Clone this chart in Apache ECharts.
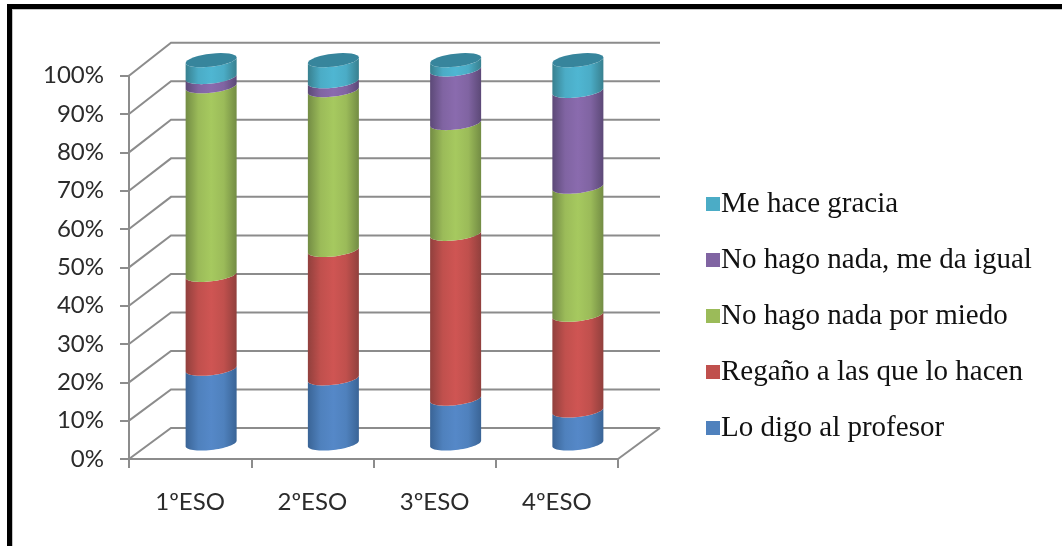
<!DOCTYPE html>
<html><head><meta charset="utf-8">
<style>html,body{margin:0;padding:0;background:#fff}#c{width:1062px;height:546px}</style>
<script src="https://cdn.jsdelivr.net/npm/echarts@6/dist/echarts.min.js"></script>
</head><body><div id="c"></div>
<script>
const categories = ['1ºESO','2ºESO','3ºESO','4ºESO'];
const yTicks = [0,10,20,30,40,50,60,70,80,90,100];
const loDigo   = [19.5,17,11.7,8.6];
const regano   = [24.5,33.5,43,25];
const miedo    = [49.2,41.7,28.9,33.4];
const igual    = [2.4,2.3,14,25];
const gracia   = [4.4,5.5,2.4,8];
const seriesNames = ['Lo digo al profesor','Regaño a las que lo hacen','No hago nada por miedo','No hago nada, me da igual','Me hace gracia'];
const seriesValues = [loDigo,regano,miedo,igual,gracia];
const flat = ['#4f81bd','#c0504d','#9bbb59','#8064a2','#4bacc6'];
const mid  = ['#5588c8','#cf5553','#a6c95f','#8a6bae','#4fb6d2'];
const dark = ['#3a6496','#91403d','#738c44','#5c4977','#38808f'];
const topColor = '#37859c';
const gridColor = '#8c8c8c';

const DX=42, DY=-31, R=25.5, RY=6.5, TILT=2.8, PERSP=1.005;

function wallItem(params, api){
  const v = api.value(0);
  const a = api.coord([0,v]);
  const base = api.coord([0,0]);
  const left = a[0]-api.size([1,0])[0]/2;
  const right = left+api.size([1,0])[0]*categories.length;
  const y = a[1];
  const yBack = base[1]+DY+(y-base[1])*PERSP;
  const pts = [[left,y],[left+DX,yBack],[right+DX,yBack]];
  const children = [{type:'polyline',shape:{points:pts},style:{stroke:gridColor,lineWidth:2,fill:null}}];
  if(v===0) children.push({type:'line',shape:{x1:right,y1:y,x2:right+DX,y2:yBack},style:{stroke:gridColor,lineWidth:2}});
  return {type:'group',children};
}
function arc(cx,cy,from,to){
  const p=[];const n=32;
  for(let i=0;i<=n;i++){const t=from+(to-from)*i/n;
    p.push([cx+R*Math.cos(t),cy+RY*Math.sin(t)-TILT*Math.cos(t)]);}
  return p;
}
function seriesRender(si){
  return function(params,api){
    const cat=api.value(0), lo=api.value(1), hi=api.value(2);
    const b=api.coord([cat,lo]), t=api.coord([cat,hi]);
    const cx=b[0]+DX/2, yb=b[1]+DY/2, yt=t[1]+DY/2;
    const pts=arc(cx,yt,Math.PI,0).concat(arc(cx,yb,0,Math.PI));
    const grad={type:'linear',x:0,y:0,x2:1,y2:0,colorStops:[
      {offset:0,color:dark[si]},{offset:.25,color:flat[si]},{offset:.5,color:mid[si]},{offset:.75,color:flat[si]},{offset:1,color:dark[si]}]};
    const children=[{type:'polygon',shape:{points:pts},style:{fill:grad}}];
    if(si===seriesNames.length-1){
      children.push({type:'polygon',shape:{points:arc(cx,yt,0,Math.PI*2)},style:{fill:topColor}});
    }
    return {type:'group',children};
  };
}
const stacks=seriesValues.map((vals,si)=>vals.map((v,c)=>{
  let lo=0;for(let k=0;k<si;k++)lo+=seriesValues[k][c];
  return [c,lo,lo+v];
}));
const chart=echarts.init(document.getElementById('c'),null,{renderer:'canvas'});
const axisFont={fontFamily:'Lato',fontSize:24,color:'#2b2b2b'};
chart.setOption({
  animation:false,
  backgroundColor:'#ffffff',
  graphic:[
    {type:'rect',shape:{x:12,y:9,width:1,height:537},style:{fill:'#c4c4c4'},silent:true},
    {type:'rect',shape:{x:12,y:9,width:1050,height:1},style:{fill:'#c4c4c4'},silent:true},
    {type:'rect',shape:{x:7,y:4,width:5,height:542},style:{fill:'#000'},silent:true},
    {type:'rect',shape:{x:7,y:4,width:1055,height:5},style:{fill:'#000'},silent:true}
  ],
  grid:{left:129,top:75.7,width:489,height:383.3,containLabel:false},
  xAxis:{type:'category',data:categories,
    axisLine:{lineStyle:{color:gridColor,width:2}},
    axisTick:{show:true,alignWithLabel:false,length:9,lineStyle:{color:gridColor,width:2}},
    axisLabel:Object.assign({margin:31},axisFont),splitLine:{show:false}},
  yAxis:{type:'value',min:0,max:100,interval:10,
    axisLine:{show:true,lineStyle:{color:gridColor,width:2}},
    axisTick:{show:true,length:9,lineStyle:{color:gridColor,width:2}},
    axisLabel:Object.assign({margin:25,formatter:'{value}%'},axisFont),splitLine:{show:false}},
  legend:{orient:'vertical',left:701,top:184,itemWidth:14,itemHeight:14,itemGap:26,icon:'rect',
    data:seriesNames.slice().reverse(),
    textStyle:{fontFamily:'Liberation Serif',fontSize:29,lineHeight:30,color:'#111',padding:[0,0,0,-4]}},
  series:[
    {type:'custom',name:'wall',coordinateSystem:'cartesian2d',data:yTicks.map(v=>[v]),encode:{y:0},renderItem:wallItem,z:1,silent:true}
  ].concat(seriesNames.map((n,si)=>({
    type:'custom',name:n,coordinateSystem:'cartesian2d',data:stacks[si],
    encode:{x:0,y:[1,2]},renderItem:seriesRender(si),itemStyle:{color:flat[si]},z:10+(si),silent:true
  })))
});
</script></body></html>
